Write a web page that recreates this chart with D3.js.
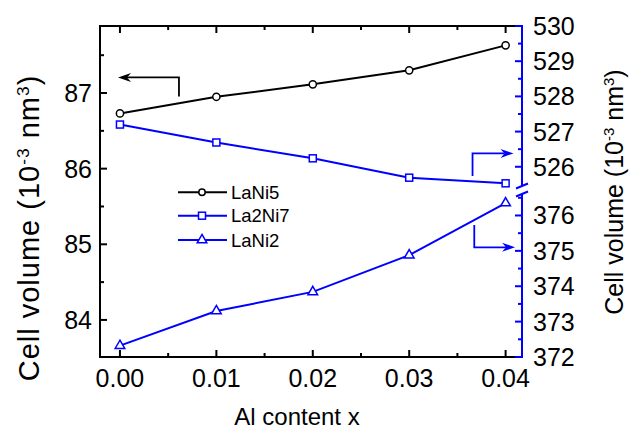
<!DOCTYPE html>
<html><head><meta charset="utf-8">
<script src="https://cdn.jsdelivr.net/npm/d3@7"></script>
<style>body{margin:0;background:#fff}svg{display:block}text{font-family:"Liberation Sans",Arial,sans-serif}</style>
</head><body><div id="c"></div>
<script>
const xValues = [0, 0.01, 0.02, 0.03, 0.04];
const LaNi5 = [86.73, 86.95, 87.115, 87.30, 87.63];
const La2Ni7 = [527.20, 526.69, 526.24, 525.69, 525.53];
const LaNi2 = [372.32, 373.30, 373.84, 374.88, 376.35];
const xTicks = [0, 0.01, 0.02, 0.03, 0.04];
const leftTicks = [84, 85, 86, 87];
const rightUpperTicks = [526, 527, 528, 529, 530];
const rightLowerTicks = [372, 373, 374, 375, 376];

const W = 629, H = 432;
const L = 100, R = 522, T = 26, B = 357, BRK = 190;
const blue = "#0000ff";
const svg = d3.select("#c").append("svg").attr("width", W).attr("height", H);

const x = d3.scaleLinear().domain([-0.00207, 0.0417]).range([L, R]);
const yL = d3.scaleLinear().domain([83.51, 87.886]).range([B, T]);
const yRU = d3.scaleLinear().domain([525.34, 530]).range([BRK, T]);
const yRL = d3.scaleLinear().domain([372, 376.72]).range([B, BRK]);

const fs = 25;
// frame lines
svg.append("line").attr("x1", L).attr("x2", R).attr("y1", B).attr("y2", B).attr("stroke", "#000").attr("stroke-width", 2);
svg.append("line").attr("x1", L).attr("x2", R).attr("y1", T).attr("y2", T).attr("stroke", "#000").attr("stroke-width", 2);
svg.append("line").attr("x1", L).attr("x2", L).attr("y1", T - 1).attr("y2", B + 1).attr("stroke", "#000").attr("stroke-width", 2);
svg.append("line").attr("x1", R).attr("x2", R).attr("y1", T - 1).attr("y2", BRK - 4).attr("stroke", blue).attr("stroke-width", 2);
svg.append("line").attr("x1", R).attr("x2", R).attr("y1", BRK + 4).attr("y2", B + 1).attr("stroke", blue).attr("stroke-width", 2);
// break marks
[-4, 4].forEach(o => {
  svg.append("line").attr("x1", R - 6).attr("x2", R + 6).attr("y1", BRK + o + 2.5).attr("y2", BRK + o - 2.5)
    .attr("stroke", blue).attr("stroke-width", 2);
});

// x ticks (bottom and top, inward)
const xMinor = d3.range(0, 0.0401, 0.005);
xMinor.forEach((v, i) => {
  const len = i % 2 === 0 ? 7 : 4;
  svg.append("line").attr("x1", x(v)).attr("x2", x(v)).attr("y1", B).attr("y2", B - len).attr("stroke", "#000").attr("stroke-width", 2);
  svg.append("line").attr("x1", x(v)).attr("x2", x(v)).attr("y1", T).attr("y2", T + len).attr("stroke", "#000").attr("stroke-width", 2);
});
svg.append("g").selectAll("text").data(xTicks).join("text")
  .attr("x", d => x(d)).attr("y", 387).attr("text-anchor", "middle").attr("font-size", fs)
  .text(d => d3.format(".2f")(d));

// left ticks
d3.range(83.5, 87.9, 0.5).forEach(v => {
  if (yL(v) > B - 1 || yL(v) < T + 1) return;
  const major = Math.abs(v - Math.round(v)) < 1e-6;
  svg.append("line").attr("x1", L).attr("x2", L + (major ? 7 : 4)).attr("y1", yL(v)).attr("y2", yL(v)).attr("stroke", "#000").attr("stroke-width", 2);
});
svg.append("g").selectAll("text").data(leftTicks).join("text")
  .attr("x", 92).attr("y", d => yL(d)).attr("dy", "0.36em").attr("text-anchor", "end").attr("font-size", fs)
  .text(d => d);

// right ticks
function rightTicks(scale, lo, hi, labels, minY, maxY) {
  for (let v = lo; v <= hi + 1e-6; v += 0.5) {
    const yy = scale(v);
    if (yy < minY || yy > maxY) continue;
    const major = Math.abs(v - Math.round(v)) < 1e-6;
    svg.append("line").attr("x1", R).attr("x2", R - (major ? 7 : 4)).attr("y1", yy).attr("y2", yy).attr("stroke", blue).attr("stroke-width", 2);
  }
  svg.append("g").selectAll("text").data(labels).join("text")
    .attr("x", 533).attr("y", d => scale(d)).attr("dy", "0.36em").attr("font-size", fs).text(d => d);
}
rightTicks(yRU, 525.5, 530, rightUpperTicks, T - 1, BRK - 6);
rightTicks(yRL, 372, 376.5, rightLowerTicks, BRK + 6, B + 1);

// data
const lineGen = (sc) => d3.line().x((d, i) => x(xValues[i])).y(d => sc(d));
svg.append("path").datum(LaNi5).attr("d", lineGen(yL)).attr("fill", "none").attr("stroke", "#000").attr("stroke-width", 2);
svg.append("path").datum(La2Ni7).attr("d", lineGen(yRU)).attr("fill", "none").attr("stroke", blue).attr("stroke-width", 2);
svg.append("path").datum(LaNi2).attr("d", lineGen(yRL)).attr("fill", "none").attr("stroke", blue).attr("stroke-width", 2);

svg.append("g").selectAll("circle").data(LaNi5).join("circle")
  .attr("cx", (d, i) => x(xValues[i])).attr("cy", d => yL(d)).attr("r", 3.6)
  .attr("fill", "#fff").attr("stroke", "#000").attr("stroke-width", 1.5);
svg.append("g").selectAll("rect").data(La2Ni7).join("rect")
  .attr("x", (d, i) => x(xValues[i]) - 3.5).attr("y", d => yRU(d) - 3.5).attr("width", 7).attr("height", 7)
  .attr("fill", "#fff").attr("stroke", blue).attr("stroke-width", 1.5);
const tri = d3.symbol().type(d3.symbolTriangle).size(40);
svg.append("g").selectAll("path").data(LaNi2).join("path")
  .attr("d", tri).attr("transform", (d, i) => `translate(${x(xValues[i])},${yRL(d)})`)
  .attr("fill", "#fff").attr("stroke", blue).attr("stroke-width", 1.5);

// arrows
function arrowHead(tx, ty, dir, color) {
  const l = 13, w = 4.5, n = 4;
  const p = [[tx, ty], [tx - dir * l, ty - w], [tx - dir * (l - n), ty], [tx - dir * l, ty + w]];
  svg.append("path").attr("d", "M" + p.map(q => q.join(",")).join("L") + "Z").attr("fill", color);
}
function elbowArrow(xs, y0, y1, xTip, ysc, color) {
  const pts = [[x(xs), ysc(y0)], [x(xs), ysc(y1)], [x(xTip), ysc(y1)]];
  const dir = x(xTip) > x(xs) ? 1 : -1;
  const end = [x(xTip) - dir * 9, ysc(y1)];
  svg.append("path").attr("d", `M${pts[0]}L${pts[1]}L${end}`).attr("fill", "none").attr("stroke", color).attr("stroke-width", 1.8);
  arrowHead(x(xTip), ysc(y1), dir, color);
}
elbowArrow(0.00612, 86.955, 87.206, -0.0002, yL, "#000");
elbowArrow(0.03657, 525.74, 526.38, 0.04082, yRU, blue);
elbowArrow(0.03675, 375.73, 375.10, 0.04098, yRL, blue);

// legend
const legend = [
  {name: "LaNi5", color: "#000", shape: "circle"},
  {name: "La2Ni7", color: blue, shape: "square"},
  {name: "LaNi2", color: blue, shape: "triangle"}
];
const legY = [192.3, 215.7, 240];
legend.forEach((d, i) => {
  const g = svg.append("g");
  const yy = legY[i];
  g.append("line").attr("x1", 178).attr("x2", 227).attr("y1", yy).attr("y2", yy).attr("stroke", d.color).attr("stroke-width", 2);
  if (d.shape === "circle") g.append("circle").attr("cx", 202).attr("cy", yy).attr("r", 3.2).attr("fill", "#fff").attr("stroke", d.color).attr("stroke-width", 1.5);
  if (d.shape === "square") g.append("rect").attr("x", 198.5).attr("y", yy - 3.5).attr("width", 7).attr("height", 7).attr("fill", "#fff").attr("stroke", d.color).attr("stroke-width", 1.5);
  if (d.shape === "triangle") g.append("path").attr("d", tri).attr("transform", `translate(202,${yy})`).attr("fill", "#fff").attr("stroke", d.color).attr("stroke-width", 1.5);
  g.append("text").attr("x", 231).attr("y", yy).attr("dy", "0.36em").attr("font-size", 18.5).text(d.name);
});

// axis titles
svg.append("text").attr("x", 297).attr("y", 425).attr("text-anchor", "middle").attr("font-size", 24).text("Al content x");
function yTitle(cx, cy, size, ls) {
  const s = size * 0.6, sh = size * 0.36;
  const t = svg.append("text").attr("transform", `translate(${cx},${cy}) rotate(-90)`).attr("text-anchor", "middle")
    .attr("font-size", size).attr("letter-spacing", ls);
  t.append("tspan").text("Cell volume (10");
  t.append("tspan").attr("dy", -sh).attr("font-size", s).text("-3");
  t.append("tspan").attr("dy", sh).text(" nm");
  t.append("tspan").attr("dy", -sh).attr("font-size", s).text("3");
  t.append("tspan").attr("dy", sh).text(")");
}
yTitle(39, 228, 29, 1);
yTitle(623, 192, 25, 0);
</script></body></html>
